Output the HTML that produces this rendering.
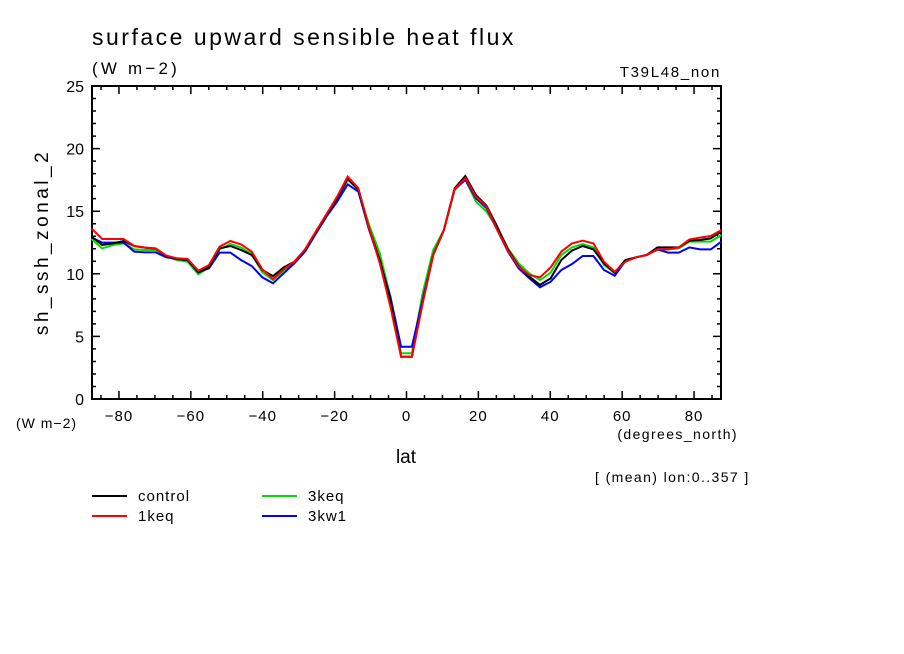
<!DOCTYPE html>
<html><head><meta charset="utf-8"><style>
body{margin:0;background:#fff;}
svg{display:block;font-family:"Liberation Sans",sans-serif;}
</style></head><body>
<svg id="c" width="904" height="654" viewBox="0 0 904 654">
<rect width="904" height="654" fill="#fff"/>
<text x="92" y="45" font-size="23" letter-spacing="2.5">surface upward sensible heat flux</text>
<text x="92" y="74" font-size="17" letter-spacing="3.2">(W m−2)</text>
<text x="721" y="77" font-size="15" letter-spacing="1.7" text-anchor="end">T39L48_non</text>
<text transform="translate(48,242) rotate(-90)" font-size="19" letter-spacing="3.5" text-anchor="middle">sh_ssh_zonal_2</text>
<text x="16" y="428" font-size="14" letter-spacing="1">(W m−2)</text>
<text x="738" y="439" font-size="14" letter-spacing="1.4" text-anchor="end">(degrees_north)</text>
<text x="406" y="463" font-size="19" text-anchor="middle">lat</text>
<text x="595" y="482" font-size="14" letter-spacing="1.4">[ (mean) lon:0..357 ]</text>
<g id="axes"></g>
<g id="series" fill="none" stroke-width="2"></g>
<g id="legend"></g>
</svg>
<script>
const categories = ["control","1keq","3keq","3kw1"];
const colors = ["#000000","#ff0000","#00dd00","#0000ff"];
const lats = [];
for (let k=29;k>=0;k--) lats.push(-(1.5+2.97*k));
for (let k=0;k<30;k++) lats.push(1.5+2.97*k);
const controlValues = [12.97,12.30,12.43,12.62,12.22,12.09,12.01,11.42,11.18,11.10,10.12,10.52,12.03,12.22,11.90,11.50,10.30,9.82,10.52,10.97,11.90,13.29,14.70,16.03,17.55,16.75,13.63,11.10,7.91,3.38,
3.38,7.64,11.50,13.50,16.83,17.81,16.29,15.42,13.76,11.95,10.62,9.77,9.11,9.64,11.10,11.85,12.22,11.95,10.84,10.09,11.10,11.32,11.50,12.11,12.11,12.11,12.65,12.70,12.83,13.37];
const oneKeqValues = [13.63,12.78,12.78,12.78,12.22,12.09,12.03,11.45,11.24,11.18,10.25,10.70,12.17,12.62,12.35,11.77,10.36,9.58,10.36,10.97,11.95,13.37,14.75,16.16,17.76,16.83,13.63,10.84,7.37,3.38,
3.38,7.64,11.50,13.50,16.75,17.63,16.16,15.36,13.50,11.85,10.57,9.90,9.72,10.52,11.77,12.43,12.65,12.43,10.97,10.17,10.97,11.32,11.50,11.95,11.95,12.11,12.75,12.89,13.02,13.50];
const threeKeqValues = [12.78,12.03,12.30,12.43,11.95,11.90,11.90,11.37,11.10,10.97,9.96,10.52,11.95,12.38,12.09,11.58,10.12,9.50,10.25,10.84,11.77,13.23,14.62,16.03,17.55,16.69,13.90,11.63,8.17,3.65,
3.65,8.44,11.90,13.50,16.69,17.55,15.76,14.96,13.63,12.03,10.84,10.04,9.50,10.09,11.50,12.11,12.38,12.11,10.70,10.04,11.05,11.32,11.50,11.90,11.95,12.03,12.57,12.57,12.57,13.10];
const threeKw1Values = [12.91,12.49,12.49,12.49,11.77,11.71,11.71,11.32,11.18,11.10,10.12,10.44,11.69,11.69,11.10,10.62,9.72,9.24,10.04,10.84,11.77,13.18,14.56,15.76,17.15,16.56,13.50,10.97,8.17,4.18,
4.18,7.91,11.50,13.50,16.75,17.49,16.03,15.23,13.50,11.77,10.44,9.64,8.92,9.37,10.30,10.78,11.42,11.42,10.30,9.85,11.02,11.32,11.50,11.95,11.69,11.69,12.11,11.95,11.95,12.57];
const xTickLabels = [-80,-60,-40,-20,0,20,40,60,80];
const yTickLabels = [0,5,10,15,20,25];

const NS="http://www.w3.org/2000/svg";
const L=92,R=721,T=86,B=399,X0=-87.5,X1=87.5,Y0=0,Y1=25;
const xs=v=>L+(v-X0)/(X1-X0)*(R-L);
const ys=v=>B-(v-Y0)/(Y1-Y0)*(B-T);
function mk(tag,attrs,parent){const e=document.createElementNS(NS,tag);for(const k in attrs)e.setAttribute(k,attrs[k]);parent.appendChild(e);return e;}
const ax=document.getElementById('axes');
const frame=mk('rect',{x:L,y:T,width:R-L,height:B-T,fill:'none',stroke:'#000','stroke-width':2},ax);


let d='';
for(let v=-85;v<=85;v+=5){const x=xs(v);const len=(v%20===0)?8:4;d+=`M${x} ${B}v${-len}M${x} ${T}v${len}`;}
for(let v=1;v<25;v++){const y=ys(v);const len=(v%5===0)?8:4;d+=`M${L} ${y}h${len}M${R} ${y}h${-len}`;}
const tk=mk('path',{d:d,stroke:'#000','stroke-width':1.5,fill:'none'},ax);


xTickLabels.forEach(v=>{const t=mk('text',{x:xs(v),y:421,'font-size':15,'letter-spacing':1,'text-anchor':'middle'},ax);t.textContent=v<0?'−'+(-v):String(v);

});
yTickLabels.forEach(v=>{const t=mk('text',{x:84,y:ys(v)+6,'font-size':16,'text-anchor':'end'},ax);t.textContent=String(v);

});
const sg=document.getElementById('series');
const seriesData=[controlValues,oneKeqValues,threeKeqValues,threeKw1Values];
[2,3,0,1].forEach(i=>{const vals=seriesData[i];const pts=vals.map((v,j)=>xs(lats[j]).toFixed(1)+','+ys(v).toFixed(1)).join(' ');
const p=mk('polyline',{points:pts,stroke:colors[i]},sg);

});
const lg=document.getElementById('legend');
const pos=[[92,496],[92,516],[262,496],[262,516]];
categories.forEach((c,i)=>{const [x,y]=pos[i];
const g=mk('g',{},lg);


mk('line',{x1:x,y1:y,x2:x+35,y2:y,stroke:colors[i],'stroke-width':2},g);
const t=mk('text',{x:x+46,y:y+5,'font-size':15,'letter-spacing':1},g);t.textContent=c;});
</script>
</body></html>
